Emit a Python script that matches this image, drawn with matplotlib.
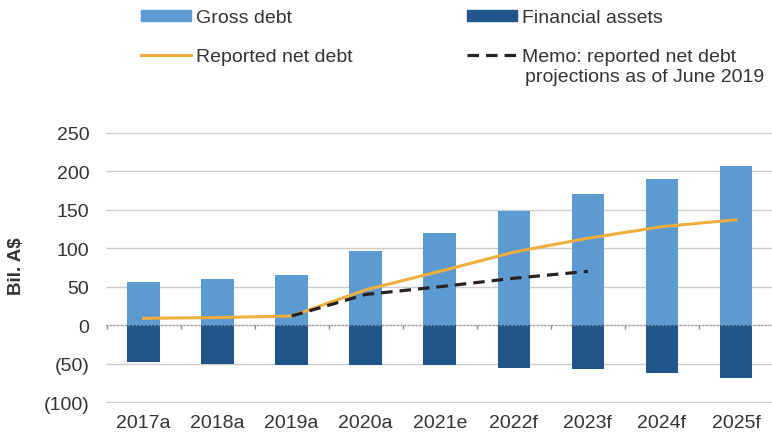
import matplotlib.pyplot as plt
import numpy as np
from matplotlib.lines import Line2D
from matplotlib.patches import Patch

plt.rcParams['font.family'] = ['Liberation Sans', 'DejaVu Sans']

years = ['2017a', '2018a', '2019a', '2020a', '2021e', '2022f', '2023f', '2024f', '2025f']
gross_debt = [56, 60, 65, 97, 120, 149, 171, 190, 207]
financial_assets = [-48, -50, -52, -52, -51, -56, -57, -62, -69]
net_debt = [9, 10, 12, 46, 70, 95, 113, 128, 137]
memo_years = ['2019a', '2020a', '2021e', '2022f', '2023f']
memo_net_debt = [12, 40, 50, 61, 70]

light_blue = '#5c9bd1'
dark_blue = '#1f5588'
orange = '#f0ae3c'
memo_col = '#2a2222'
text_col = '#333333'
dash = (0, (3.6, 2.2))

fig = plt.figure(figsize=(7.72, 4.39), dpi=100)
ax = fig.add_axes([106.5 / 772, 1 - 404 / 439, 666.5 / 772, 271 / 439])

x = np.arange(len(years))
memo_x = [years.index(y) for y in memo_years]

ax.bar(x, gross_debt, width=0.44, color=light_blue, zorder=2)
ax.bar(x, financial_assets, width=0.44, color=dark_blue, zorder=2)
ax.plot(x, net_debt, color=orange, lw=2.2, zorder=3)
ax.plot(memo_x, memo_net_debt, color=memo_col, lw=2.3, ls=dash, zorder=4)

# dotted zero line with little ticks between categories
ax.axhline(0, color='#999999', lw=1, ls=':', zorder=3)
ax.vlines(np.arange(-0.5, len(years)), -5, 0, color='#888888', lw=1, zorder=3)

ax.set_xlim(-0.5, len(years) - 0.5)
ax.set_ylim(-101, 251)
yt = np.arange(-100, 251, 50)
ax.set_yticks(yt)
ax.set_yticklabels([f'({-v})' if v < 0 else str(v) for v in yt])
ax.set_xticks(x)
ax.set_xticklabels(years)
ax.tick_params(length=0, labelsize=14, colors=text_col)
ax.tick_params(axis='y', pad=12.5)
ax.tick_params(axis='x', pad=8)
ax.grid(axis='y', color='#cccccc', lw=1, zorder=0)
for s in ax.spines.values():
    s.set_visible(False)
ax.set_ylabel('Bil. A$', fontsize=13.5, fontweight='bold', color=text_col)
ax.yaxis.set_label_coords(-0.122, 0.51)

h1 = [Patch(color=light_blue), Line2D([], [], color=orange, lw=2.2)]
h2 = [Patch(color=dark_blue), Line2D([], [], color=memo_col, lw=2.3, ls=dash)]
kw = dict(frameon=False, fontsize=14, handlelength=2.55, handleheight=0.5,
          handletextpad=0.28, labelspacing=1.15, borderpad=0, borderaxespad=0,
          labelcolor=text_col, loc='upper left')
top = 1 - 10 / 439
fig.legend(h1, ['Gross debt', 'Reported net debt'], bbox_to_anchor=(141 / 772, top), **kw)
fig.legend(h2, ['Financial assets', 'Memo: reported net debt'],
           bbox_to_anchor=(467 / 772, top), **kw)
fig.text(525 / 772, 1 - 78 / 439, 'projections as of June 2019', fontsize=14,
         color=text_col, va='center')

fig.savefig('out.png', dpi=100)
